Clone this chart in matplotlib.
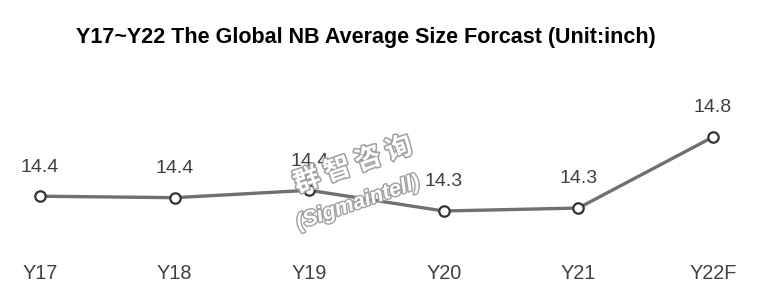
import matplotlib
matplotlib.use("Agg")
import matplotlib.pyplot as plt
import matplotlib.patheffects as pe

categories = ["Y17", "Y18", "Y19", "Y20", "Y21", "Y22F"]
values = [14.40, 14.39, 14.44, 14.30, 14.32, 14.80]
labels = ["14.4", "14.4", "14.4", "14.3", "14.3", "14.8"]
title = "Y17~Y22 The Global NB Average Size Forcast (Unit:inch)"

plt.rcParams['font.family'] = ['Liberation Sans', 'DejaVu Sans']

fig = plt.figure(figsize=(7.6, 3.06), dpi=100)
ax = fig.add_axes([0, 56/306, 1, 250/306])
x = list(range(len(categories)))
ax.plot(x, values, color="#707070", lw=2.4, zorder=2, solid_capstyle="round")
ax.plot(x, values, linestyle="none", marker="o", ms=7.5, mfc="white",
        mec="#333333", mew=1.6, zorder=3)
for xi, v, lab in zip(x, values, labels):
    ax.annotate(lab, (xi, v), xytext=(0, 21), textcoords="offset points",
                ha="center", va="center", fontsize=14, color="#404040")

ax.set_xlim(-40/134.6, (760-40)/134.6)
ytop = 14.3 + 211/148
ybot = 14.3 - (250-211)/148
ax.set_ylim(ybot, ytop)
ax.set_xticks(x)
ax.set_xticklabels(categories, fontsize=14.3, color="#404040")
ax.tick_params(axis="x", length=0, pad=10)
ax.set_yticks([])
for s in ax.spines.values():
    s.set_visible(False)

fig.text(366/760, 1-38/306, title, ha="center", va="center", fontsize=15.5,
         fontweight="bold", color="black")

t1 = fig.text(353/760, 1-165/306, "群 智 咨 询", family=['Noto Sans CJK SC', 'DejaVu Sans'],
              fontsize=19, color="white", rotation=19, ha="center", va="center",
              fontweight="bold", zorder=5)
t1.set_path_effects([pe.Stroke(linewidth=2.2, foreground="#a0a0a0"), pe.Normal()])
t2 = fig.text(358/760, 1-203/306, "(Sigmaintell)", fontsize=15.5, color="white",
              rotation=19, ha="center", va="center", fontweight="bold",
              style="italic", zorder=5)
t2.set_path_effects([pe.Stroke(linewidth=2.0, foreground="#a0a0a0"), pe.Normal()])

fig.savefig("out.png", dpi=100)
